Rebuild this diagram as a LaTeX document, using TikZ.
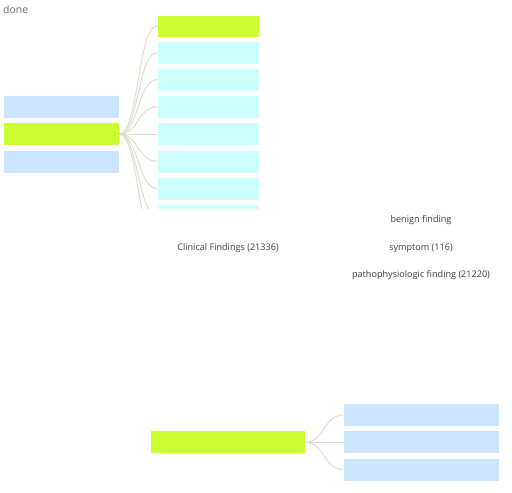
\documentclass[tikz,border=0pt]{standalone}
\usepackage{fontspec}
\setmainfont{Open Sans}
\definecolor{lblue}{RGB}{204,229,255}
\definecolor{lgreen}{RGB}{204,255,51}
\definecolor{lcyan}{RGB}{204,255,255}
\definecolor{linkc}{RGB}{222,222,208}
\definecolor{txtc}{RGB}{60,60,60}
\definecolor{donec}{RGB}{110,110,110}
\tikzset{
  nbox/.style={rectangle, draw=white, line width=0.6pt, inner sep=0pt, minimum width=#1, minimum height=23pt},
  lnk/.style={draw=linkc, line width=1pt},
  lbl/.style={font=\fontsize{9.1}{10}\selectfont, text=txtc, inner sep=0pt}
}
\begin{document}
\begin{tikzpicture}[x=1pt,y=-1pt]
\useasboundingbox (0,0) rectangle (512,493);
\node[anchor=west, font=\fontsize{10.5}{12}\selectfont, text=donec, inner sep=0pt] (done) at (3,10) {done};
\begin{scope}
\clip (0,0) rectangle (512,208.5);
\node[nbox=116, fill=lblue] (l1) at (61,107) {};
\node[nbox=116, fill=lgreen] (l2) at (61,134.2) {};
\node[nbox=116, fill=lblue] (l3) at (61,161.3) {};
\node[nbox=102, fill=lgreen, minimum height=22pt] (r0) at (208.3,26) {};
\foreach \i/\yc in {1/52.6,2/79.6,3/106.8,4/134.2,5/161.3,6/188.5,7/215.6,8/242.7} {
  \node[nbox=102, fill=lcyan] (r\i) at (208.3,\yc) {};
}
\foreach \i in {0,...,8} {
  \draw[lnk] (l2.east) .. controls +(19,0) and +(-19,0) .. (r\i.west);
}
\end{scope}
\node[lbl] (cf) at (228,248) {Clinical Findings (21336)};
\node[lbl] (bf) at (421,220.5) {benign finding};
\node[lbl] (sy) at (421,248) {symptom (116)};
\node[lbl] (pf) at (421,275) {pathophysiologic finding (21220)};
\node[nbox=155, fill=lgreen] (b0) at (227.5,442.2) {};
\node[nbox=156, fill=lblue] (b1) at (421.2,415) {};
\node[nbox=156, fill=lblue] (b2) at (421.2,442.2) {};
\node[nbox=156, fill=lblue] (b3) at (421.2,469.5) {};
\foreach \i in {1,2,3} {
  \draw[lnk] (b0.east) .. controls +(19,0) and +(-19,0) .. (b\i.west);
}
\end{tikzpicture}
\end{document}
